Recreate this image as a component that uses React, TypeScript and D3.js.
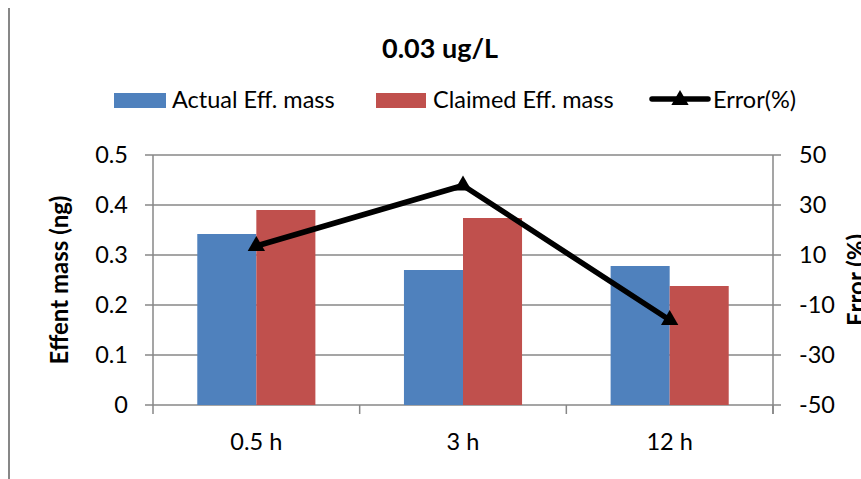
import React from "react";
import * as d3 from "d3";

const categories = ["0.5 h", "3 h", "12 h"];
const seriesNames = ["Actual Eff. mass", "Claimed Eff. mass"];
const actualMass = [0.342, 0.27, 0.278];
const claimedMass = [0.39, 0.374, 0.238];
const errorPct = [13.6, 37.8, -16];
const leftTicks = [0, 0.1, 0.2, 0.3, 0.4, 0.5];
const rightTicks = [-50, -30, -10, 10, 30, 50];
const title = "0.03 ug/L";
const leftTitle = "Effent mass (ng)";
const rightTitle = "Error (%)";
const lineName = "Error(%)";

const W = 861;
const H = 479;
const FONT = "Lato, 'Open Sans', sans-serif";
const BLUE = "#4F81BD";
const RED = "#C0504D";
const GRID = "#878787";
const FS = 23.5;

export default function App() {
  const plot = { left: 153, right: 773, top: 155, bottom: 405 };
  const x = d3.scaleBand().domain(categories).range([plot.left, plot.right]).paddingInner(0).paddingOuter(0);
  const x1 = d3.scaleBand().domain(seriesNames).range([0, x.bandwidth()]).paddingInner(0).paddingOuter(0.75);
  const yL = d3.scaleLinear().domain([0, 0.5]).range([plot.bottom, plot.top]);
  const yR = d3.scaleLinear().domain([-50, 50]).range([plot.bottom, plot.top]);
  const seriesVals = [actualMass, claimedMass];
  const colors = [BLUE, RED];
  const line = d3
    .line<number>()
    .x((_, i) => (x(categories[i]) as number) + x.bandwidth() / 2)
    .y((d) => yR(d));
  const tri = d3.symbol().type(d3.symbolTriangle).size(130)();
  const xTickPos = [...categories.map((c) => x(c) as number), plot.right];

  return (
    <svg width={W} height={H} style={{ position: "absolute", left: 0, top: 0, background: "#fff" }} fontFamily={FONT}>
      <rect x={0} y={0} width={W} height={H} fill="#fff" />
      <line x1={9} x2={9} y1={8} y2={H} stroke={GRID} strokeWidth={2} />
      {/* gridlines */}
      {leftTicks.map((t) => (
        <line key={"g" + t} x1={plot.left - 8} x2={plot.right + 8} y1={yL(t)} y2={yL(t)} stroke={GRID} strokeWidth={1.5} />
      ))}
      <line x1={plot.left} x2={plot.left} y1={plot.top} y2={plot.bottom} stroke={GRID} strokeWidth={1.5} />
      <line x1={plot.right} x2={plot.right} y1={plot.top} y2={plot.bottom + 9} stroke={GRID} strokeWidth={1.5} />
      {xTickPos.map((p, i) => (
        <line key={"xt" + i} x1={p} x2={p} y1={plot.bottom} y2={plot.bottom + 9} stroke={GRID} strokeWidth={1.5} />
      ))}
      {/* bars */}
      {categories.map((c, i) =>
        seriesNames.map((s, j) => (
          <rect
            key={c + s}
            x={(x(c) as number) + (x1(s) as number)}
            y={yL(seriesVals[j][i])}
            width={x1.bandwidth()}
            height={plot.bottom - yL(seriesVals[j][i])}
            fill={colors[j]}
          />
        ))
      )}
      {/* line */}
      <path d={line(errorPct) || ""} fill="none" stroke="#000" strokeWidth={5.5} strokeLinejoin="round" />
      {errorPct.map((v, i) => (
        <path key={"m" + i} d={tri || ""} transform={`translate(${(x(categories[i]) as number) + x.bandwidth() / 2},${yR(v)})`} fill="#000" />
      ))}
      {/* left tick labels */}
      {leftTicks.map((t) => (
        <text key={"lt" + t} x={128} y={yL(t)} dy="0.36em" textAnchor="end" fontSize={FS} fill="#000">
          {t === 0 ? "0" : d3.format(".1f")(t)}
        </text>
      ))}
      {rightTicks.map((t) => (
        <text key={"rt" + t} x={799} y={yR(t)} dy="0.36em" textAnchor="start" fontSize={FS} fill="#000">
          {t}
        </text>
      ))}
      {categories.map((c) => (
        <text key={"xl" + c} x={(x(c) as number) + x.bandwidth() / 2} y={450} textAnchor="middle" fontSize={FS} fill="#000">
          {c}
        </text>
      ))}
      {/* axis titles */}
      <text transform={`translate(68,${(plot.top + plot.bottom) / 2}) rotate(-90)`} textAnchor="middle" fontSize={24} fontWeight="bold" fill="#000">
        {leftTitle}
      </text>
      <text transform={`translate(865,${(plot.top + plot.bottom) / 2}) rotate(-90)`} textAnchor="middle" fontSize={24} fontWeight="bold" fill="#000">
        {rightTitle}
      </text>
      {/* title */}
      <text x={440} y={58} textAnchor="middle" fontSize={27} fontWeight="bold" fill="#000">
        {title}
      </text>
      {/* legend */}
      <rect x={114} y={93} width={52} height={15} fill={BLUE} />
      <text x={172} y={108} fontSize={FS} fill="#000">{seriesNames[0]}</text>
      <rect x={376} y={93} width={50} height={15} fill={RED} />
      <text x={433} y={108} fontSize={FS} fill="#000">{seriesNames[1]}</text>
      <line x1={652} x2={708} y1={99} y2={99} stroke="#000" strokeWidth={5.5} strokeLinecap="round" />
      <path d={tri || ""} transform="translate(680,100)" fill="#000" />
      <text x={713} y={108} fontSize={FS} fill="#000">{lineName}</text>
    </svg>
  );
}
